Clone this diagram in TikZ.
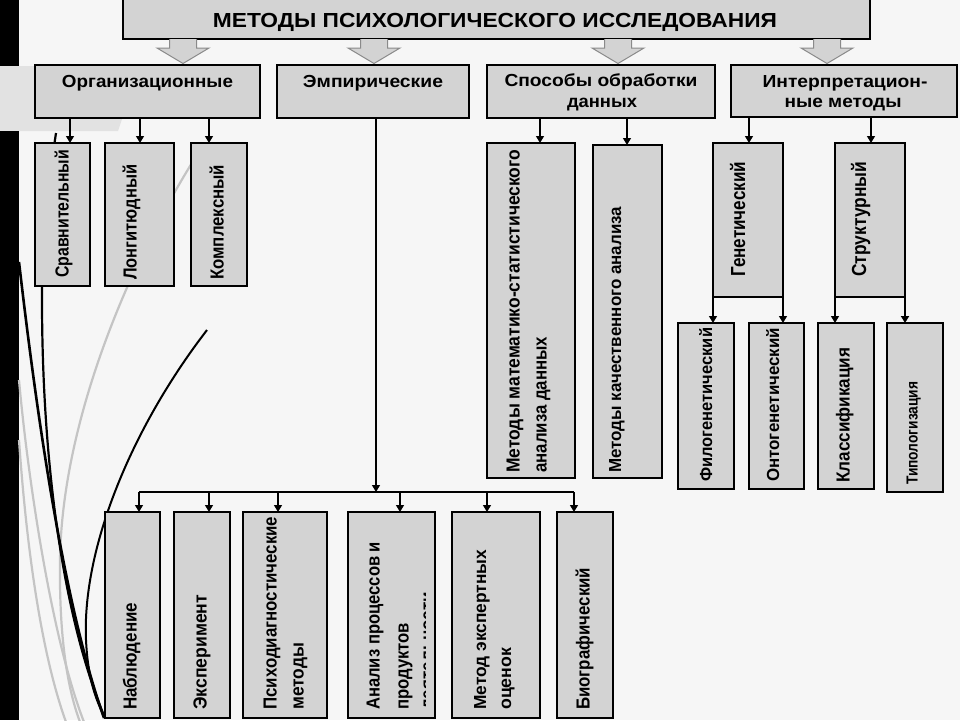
\documentclass[tikz,border=0pt]{standalone}
\usepackage{fontspec}
\setmainfont{Liberation Sans}
\usetikzlibrary{arrows.meta,calc}
\definecolor{bg}{HTML}{F6F6F6}
\definecolor{boxgray}{HTML}{D3D3D3}
\definecolor{band}{HTML}{E2E2E2}
\definecolor{arrowedge}{HTML}{8A8A8A}
\definecolor{decogray}{HTML}{C4C4C4}
\newcommand\bx[5]{\node[box, anchor=north west, minimum width={(#4)-(#2)}, minimum height={(#5)-(#3)}] (#1) at (#2,#3) {};}
\newcommand\fitlab[3]{\resizebox{#1pt}{#2pt}{\bfseries\vphantom{Н}\smash{#3}}}
\newcommand\vlab[6]{\node[vlbl] (#1) at (#2,#3) {\fitlab{#4}{#5}{#6}};}
\newcommand\hlab[6]{\node[lbl] (#1) at (#2,#3) {\fitlab{#4}{#5}{#6}};}
\begin{document}
\begin{tikzpicture}[x=1pt,y=-1pt,
  box/.style={draw=black, line width=1.3pt, fill=boxgray, inner sep=0pt, outer sep=0pt},
  conn/.style={draw=black, line width=1.2pt},
  arr/.style={conn, -{Triangle[length=7pt,width=8pt]}},
  lbl/.style={inner sep=0pt, font=\bfseries},
  vlbl/.style={lbl, rotate=90, anchor=west},
  bigarrow/.style={draw=arrowedge, fill=boxgray, line width=1pt, line join=miter},
  decoblack/.style={draw=black, line width=2.6pt},
  decogr/.style={draw=decogray, line width=2.2pt},
]
\useasboundingbox (0,0) rectangle (960,720);
\fill[bg] (0,0) rectangle (960,720);
% left decoration
\fill[band] (0,66) -- (140,66) -- (118,131) -- (0,131) -- cycle;
\fill[black] (0,0) rectangle (19,66);
\fill[black] (0,131) rectangle (19,720);
\draw[decogr] (200,150) .. controls (130,260) and (62,420) .. (60,560) .. controls (59,640) and (68,690) .. (80,722);
\draw[decogr] (19,380) .. controls (28,480) and (52,640) .. (84,722);
\draw[decogr] (19,440) .. controls (26,540) and (40,650) .. (66,722);
\draw[decoblack] (19,262) .. controls (35,400) and (62,600) .. (104,718);
\draw[decoblack, line width=2.2pt] (56,133) .. controls (46,200) and (42,250) .. (42,300) .. controls (42,450) and (60,610) .. (105,718);
\draw[decoblack, line width=2pt] (207,330) .. controls (130,430) and (82,550) .. (86,640) .. controls (88,680) and (96,700) .. (105,718);
% title
\node[box, anchor=north west, minimum width=747, minimum height=41] (title) at (123,-2) {};
\hlab{ttl}{495}{20}{564}{14}{МЕТОДЫ ПСИХОЛОГИЧЕСКОГО ИССЛЕДОВАНИЯ}
% second level
\bx{org}{35}{65}{260}{118}
\bx{emp}{277}{65}{469}{118}
\bx{spo}{487}{65}{715}{118}
\bx{int}{731}{65}{957}{117}
\hlab{orgt}{147.5}{81}{171}{12}{Организационные}
\hlab{empt}{373}{81}{140}{12}{Эмпирические}
\hlab{spot1}{601}{80}{193}{12}{Способы обработки}
\hlab{spot2}{602}{101}{70}{12}{данных}
\hlab{intt1}{845}{81}{165}{12}{Интерпретацион-}
\hlab{intt2}{843}{101}{117}{12}{ные методы}
% block arrows
\foreach \n/\c in {b1/183,b2/374,b3/618,b4/827}{
  \coordinate (\n) at (\c,0);
  \draw[bigarrow] ($(title.south -| \n)+(-13.5,0)$) -- ++(0,9) -- ++(-12.5,0) -- ($(title.south -| \n)+(0,24.5)$) -- ($(title.south -| \n)+(26,9)$) -- ++(-12.5,0) -- ($(title.south -| \n)+(13.5,0)$);
}
% org children
\bx{srav}{35}{143}{90}{286}
\bx{long}{105}{143}{174}{286}
\bx{kompl}{191}{143}{247}{286}
\vlab{sravt}{62}{278}{128}{13}{Сравнительный}
\vlab{longt}{130}{280}{115}{13}{Лонгитюдный}
\vlab{komplt}{217}{280}{115}{13}{Комплексный}
\coordinate (o1) at (70,0); \coordinate (o2) at (140,0); \coordinate (o3) at (209,0);
\draw[arr] (org.south -| o1) -- (srav.north -| o1);
\draw[arr] (org.south -| o2) -- (long.north -| o2);
\draw[arr] (org.south -| o3) -- (kompl.north -| o3);
% processing children
\bx{mat}{487}{143}{575}{478}
\bx{kach}{593}{145}{662}{478}
\vlab{matt1}{513}{473}{323}{13}{Методы математико-статистического}
\vlab{matt2}{540}{473}{136}{13}{анализа данных}
\vlab{kacht}{615}{473}{266}{12}{Методы качественного анализа}
\coordinate (s1) at (540,0); \coordinate (s2) at (627,0);
\draw[arr] (spo.south -| s1) -- (mat.north -| s1);
\draw[arr] (spo.south -| s2) -- (kach.north -| s2);
% interpretation children
\bx{gen}{713}{143}{783}{297}
\bx{str}{835}{143}{905}{297}
\vlab{gent}{738}{277}{115}{14}{Генетический}
\vlab{strt}{859}{277}{115}{14}{Структурный}
\coordinate (i1) at (749,0); \coordinate (i2) at (871,0);
\draw[arr] (int.south -| i1) -- (gen.north -| i1);
\draw[arr] (int.south -| i2) -- (str.north -| i2);
% grandchildren
\bx{filo}{678}{323}{734}{489}
\bx{onto}{749}{323}{804}{489}
\bx{klas}{818}{323}{874}{489}
\bx{tipo}{887}{323}{943}{492}
\vlab{filot}{706}{482}{154}{12}{Филогенетический}
\vlab{ontot}{773}{482}{154}{12}{Онтогенетический}
\vlab{klast}{843}{483}{135}{13}{Классификация}
\vlab{tipot}{912}{485}{103}{11}{Типологизация}
\draw[arr] (gen.south west) -- (filo.north -| gen.south west);
\draw[arr] (gen.south east) -- (onto.north -| gen.south east);
\draw[arr] (str.south west) -- (klas.north -| str.south west);
\draw[arr, line width=1.8pt] (str.south east) -- (tipo.north -| str.south east);
% empirical children
\bx{nab}{105}{512}{160}{718}
\bx{eks}{174}{512}{230}{718}
\bx{psy}{243}{512}{327}{718}
\bx{ana}{348}{512}{435}{718}
\bx{exp}{452}{512}{540}{718}
\bx{bio}{557}{512}{613}{718}
\vlab{nabt}{130}{710}{107}{13}{Наблюдение}
\vlab{ekst}{200}{710}{115}{13}{Эксперимент}
\vlab{psyt1}{270}{710}{193}{13}{Психодиагностические}
\vlab{psyt2}{297}{710}{67}{13}{методы}
\vlab{anat1}{373}{710}{168}{13}{Анализ процессов и}
\vlab{anat2}{402}{710}{87}{13}{продуктов}
\begin{scope}
  \clip (419,512) rectangle (425,718);
  \vlab{anat3}{427}{710}{118}{13}{деятельности}
\end{scope}
\vlab{expt1}{480}{710}{160}{12}{Метод экспертных}
\vlab{expt2}{505}{710}{62}{12}{оценок}
\vlab{biot}{583}{710}{142}{13}{Биографический}
\coordinate (e0) at (376,0);
\coordinate (bus) at (376,492);
\coordinate (busl) at (139,492);
\coordinate (busr) at (574,492);
\draw[arr] (emp.south -| e0) -- (bus);
\draw[conn] (busl) -- (busr);
\foreach \n/\xx in {nab/139,eks/209,psy/278,ana/400,exp/487,bio/574}{
  \coordinate (d\n) at (\xx,492);
  \draw[arr] (d\n) -- (\n.north -| d\n);
}
\end{tikzpicture}
\end{document}
